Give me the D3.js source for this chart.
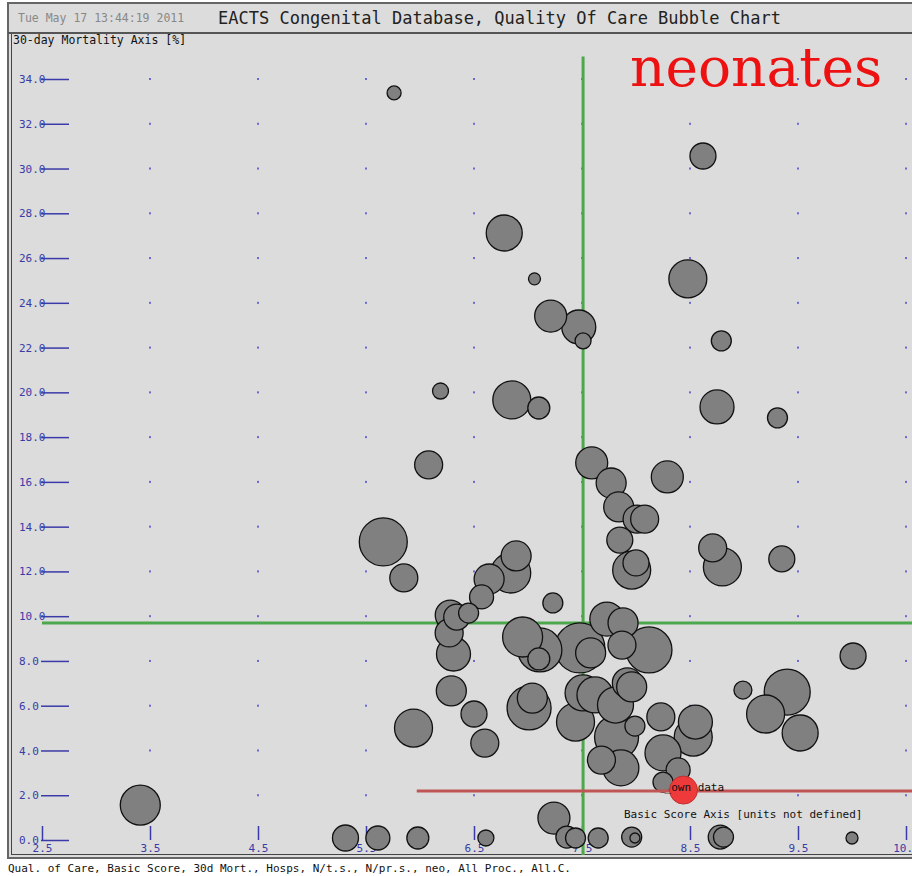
<!DOCTYPE html>
<html>
<head>
<meta charset="utf-8">
<script src="https://cdn.jsdelivr.net/npm/d3@7"></script>
<style>
  body { margin: 0; background: #fff; }
</style>
</head>
<body>
<div id="chart"></div>
<script>
// basic score (x), 30-day mortality % (y), number of cases (bubble size)
const basicScore = [5.76, 8.62, 6.78, 7.06, 8.48, 7.21, 7.47, 7.51, 8.79, 6.19,
  6.85, 7.10, 8.75, 9.31, 6.08, 7.59, 8.29, 7.77, 7.84, 8.01,
  8.08, 7.85, 7.96, 8.00, 8.71, 8.80, 9.35, 5.66, 5.85, 6.89,
  6.84, 6.64, 6.57, 7.23, 6.28, 6.34, 6.45, 6.27, 6.31, 6.95,
  7.11, 7.10, 7.48, 7.58, 7.73, 7.88, 7.87, 8.12, 6.29, 6.50,
  6.60, 5.94, 7.01, 7.04, 7.44, 7.51, 7.62, 7.81, 7.92, 7.96,
  7.99, 7.82, 7.68, 7.86, 8.23, 8.25, 8.55, 8.53, 8.39, 8.25,
  10.01, 8.99, 9.40, 9.20, 9.52, 7.24, 3.41, 5.31, 5.61, 5.98,
  6.61, 7.36, 7.44, 7.65, 7.96, 7.99, 8.78, 8.81, 10.00];
const mortality = [33.38, 30.56, 27.12, 25.07, 25.07, 23.41, 22.92, 22.30, 22.30, 20.06,
  19.66, 19.30, 19.35, 18.86, 16.76, 16.85, 16.22, 15.95, 14.88, 14.34,
  14.34, 13.40, 12.06, 12.38, 13.05, 12.20, 12.56, 13.32, 11.71, 12.69,
  11.93, 11.66, 10.86, 10.59, 10.05, 9.96, 10.14, 9.25, 8.31, 9.07,
  8.49, 8.09, 8.58, 8.36, 9.87, 9.70, 8.71, 8.49, 6.66, 5.63,
  4.33, 5.00, 5.90, 6.34, 5.27, 6.57, 6.48, 6.03, 7.02, 6.84,
  5.09, 4.60, 3.57, 3.22, 5.50, 3.89, 5.27, 4.60, 3.13, 2.59,
  8.22, 6.70, 6.61, 5.63, 4.78, 0.98, 1.56, 0.09, 0.09, 0.09,
  0.09, 0.13, 0.09, 0.09, 0.13, 0.09, 0.13, 0.13, 0.09];
const cases = [49, 169, 324, 36, 361, 256, 289, 64, 100, 64,
  361, 121, 289, 100, 196, 256, 256, 225, 225, 196,
  196, 169, 361, 169, 196, 361, 169, 576, 196, 225,
  400, 225, 144, 100, 225, 169, 100, 196, 289, 400,
  484, 121, 625, 225, 289, 225, 196, 529, 225, 169,
  196, 361, 484, 225, 361, 324, 324, 324, 225, 225,
  100, 484, 196, 324, 196, 324, 289, 361, 144, 100,
  169, 81, 529, 361, 324, 256, 400, 169, 144, 121,
  64, 121, 100, 100, 100, 25, 144, 100, 36];

const ownData = {score: 8.44, mortality: 2.23, cases: 196};
const meanScore = 7.51;
const meanMortality = 9.69;
const ownLineStart = 5.97;

const xTicks = [2.5, 3.5, 4.5, 5.5, 6.5, 7.5, 8.5, 9.5, 10.5];
const yTicks = [0, 2, 4, 6, 8, 10, 12, 14, 16, 18, 20, 22, 24, 26, 28, 30, 32, 34];

const W = 912, H = 876;
const mono = "DejaVu Sans Mono, monospace";
const svg = d3.select("#chart").append("svg")
  .attr("width", W).attr("height", H)
  .attr("font-family", mono);

const x = d3.scaleLinear().domain([2.5, 10.5]).range([42, 906]);
const y = d3.scaleLinear().domain([0, 34]).range([840, 79]);
const r = d3.scaleSqrt().domain([0, 625]).range([0, 25]);

const tickColor = "#3a3aa8";

// frame
svg.append("rect").attr("x", 8).attr("y", 3).attr("width", W).attr("height", 855)
  .attr("fill", "#dcdcdc").attr("stroke", "#666").attr("stroke-width", 2);
svg.append("line").attr("x1", 8).attr("x2", W).attr("y1", 33).attr("y2", 33)
  .attr("stroke", "#555").attr("stroke-width", 2);
svg.append("line").attr("x1", 11.5).attr("x2", 11.5).attr("y1", 34).attr("y2", 855)
  .attr("stroke", "#444").attr("stroke-width", 1);
svg.append("line").attr("x1", 11).attr("x2", W).attr("y1", 854.5).attr("y2", 854.5)
  .attr("stroke", "#444").attr("stroke-width", 1);

svg.append("text").attr("x", 18).attr("y", 22)
  .attr("font-size", 11.5).attr("fill", "#888")
  .text("Tue May 17 13:44:19 2011");
svg.append("text").attr("x", 218).attr("y", 24)
  .attr("font-size", 17).attr("fill", "#222")
  .text("EACTS Congenital Database, Quality Of Care Bubble Chart");
svg.append("text").attr("x", 13).attr("y", 44)
  .attr("font-size", 11.5).attr("fill", "#111")
  .text("30-day Mortality Axis [%]");

// grid dots
const dots = [];
xTicks.slice(1).forEach(a => yTicks.slice(1).forEach(b => dots.push([a, b])));
svg.append("g").selectAll("rect").data(dots).join("rect")
  .attr("x", d => x(d[0]) - 1).attr("y", d => y(d[1]) - 1)
  .attr("width", 2).attr("height", 2).attr("fill", "#6a6ad0");

// y axis
const yAxis = svg.append("g")
  .attr("transform", "translate(41,0)")
  .call(d3.axisRight(y).tickValues(yTicks).tickSize(28).tickFormat(d3.format(".1f")));
yAxis.select(".domain").remove();
yAxis.selectAll("line").attr("stroke", tickColor).attr("stroke-width", 1.5);
yAxis.selectAll("text").attr("x", -22).attr("text-anchor", "start")
  .attr("font-size", 11).attr("fill", tickColor)
  .attr("font-family", mono);

// x axis
const xAxis = svg.append("g")
  .attr("transform", "translate(0,840)")
  .call(d3.axisTop(x).tickValues(xTicks).tickSize(14).tickFormat(d3.format(".1f")));
xAxis.select(".domain").remove();
xAxis.selectAll("line").attr("stroke", tickColor).attr("stroke-width", 1.5);
xAxis.selectAll("text").attr("y", 12).attr("dy", "0")
  .attr("font-size", 11).attr("fill", tickColor)
  .attr("font-family", mono);

svg.append("text").attr("x", 624).attr("y", 818)
  .attr("font-size", 11).attr("fill", "#111")
  .text("Basic Score Axis [units not defined]");

// hospitals
const hospitals = basicScore.map((s, i) => ({score: s, mortality: mortality[i], cases: cases[i]}))
  .sort((a, b) => b.cases - a.cases);

// green mean lines
svg.append("line")
  .attr("x1", x(meanScore)).attr("x2", x(meanScore))
  .attr("y1", y(35)).attr("y2", 855)
  .attr("stroke", "#4da84d").attr("stroke-width", 3);
svg.append("line")
  .attr("x1", x(2.5)).attr("x2", W)
  .attr("y1", y(meanMortality)).attr("y2", y(meanMortality))
  .attr("stroke", "#4da84d").attr("stroke-width", 3);

svg.append("g").selectAll("circle").data(hospitals).join("circle")
  .attr("cx", d => x(d.score)).attr("cy", d => y(d.mortality)).attr("r", d => r(d.cases))
  .attr("fill", "#808080").attr("stroke", "#111").attr("stroke-width", 1.3);

// own data
svg.append("line")
  .attr("x1", x(ownLineStart)).attr("x2", W)
  .attr("y1", y(ownData.mortality) + 1).attr("y2", y(ownData.mortality) + 1)
  .attr("stroke", "#c05555").attr("stroke-width", 3);
svg.append("circle")
  .attr("cx", x(ownData.score)).attr("cy", y(ownData.mortality)).attr("r", r(ownData.cases))
  .attr("fill", "#ee3a3a").attr("stroke", "#c03030").attr("stroke-width", 1);
svg.append("text")
  .attr("x", x(ownData.score) - 19).attr("y", y(ownData.mortality) + 1)
  .attr("font-size", 11).attr("fill", "#111")
  .text("_own data");

svg.append("text").attr("x", 630).attr("y", 86)
  .attr("font-family", "DejaVu Serif, serif").attr("font-size", 55).attr("fill", "#ee1111")
  .text("neonates");

svg.append("text").attr("x", 8).attr("y", 872)
  .attr("font-size", 11).attr("fill", "#111")
  .text("Qual. of Care, Basic Score, 30d Mort., Hosps, N/t.s., N/pr.s., neo, All Proc., All.C.");
</script>
</body>
</html>
